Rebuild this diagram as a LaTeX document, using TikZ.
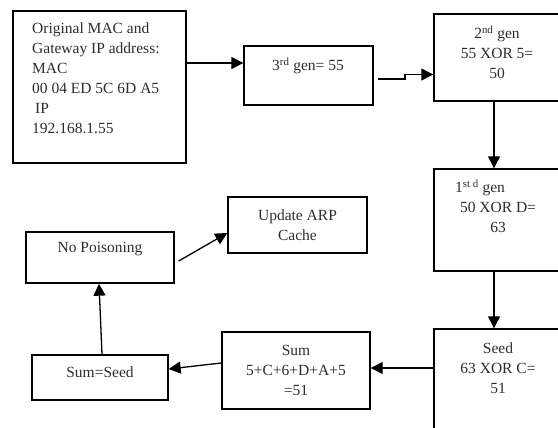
\documentclass[tikz,border=0pt]{standalone}
\usepackage{fontspec}
\setmainfont{Liberation Serif}
\usetikzlibrary{arrows.meta}
\definecolor{ink}{RGB}{45,45,45}
\begin{document}
\begin{tikzpicture}[x=1pt,y=-1pt,
  box/.style={draw, line width=1.4pt, rectangle, inner sep=0pt},
  txt/.style={font=\fontsize{15.5}{20}\selectfont, text=ink, inner sep=0pt, align=center, anchor=north},
  arr/.style={line width=1.3pt, -{Triangle[length=12pt,width=12pt]}}]
\useasboundingbox (0,0) rectangle (558,428);

% boxes
\node[box, minimum width=173, minimum height=152] (b1) at (99.5,87) {};
\node[box, minimum width=129, minimum height=59] (b2) at (308.5,75.5) {};
\node[box, minimum width=127, minimum height=87] (b3) at (497.5,57.5) {};
\node[box, minimum width=127, minimum height=102] (b4) at (497.5,220) {};
\node[box, minimum width=127, minimum height=111] (b5) at (497.5,384.5) {};
\node[box, minimum width=148, minimum height=77] (sum) at (296,370.5) {};
\node[box, minimum width=136, minimum height=45] (ss) at (100,377.5) {};
\node[box, minimum width=148, minimum height=51] (np) at (100,257.5) {};
\node[box, minimum width=139, minimum height=56] (up) at (297.5,225) {};

% texts (each starts with a strut so the node top sits 14pt above the first baseline)
\node[txt, anchor=north west, align=left] (t1) at (32,19.5)
  {\strut Original MAC and\\Gateway IP address:\\MAC\\00 04 ED 5C 6D A5\\\hspace*{3pt}IP\\192.168.1.55};
\node[txt] (t2) at (308,56.5) {\strut 3\textsuperscript{rd} gen= 55};
\node[txt] (t3) at (497,24.5) {\strut 2\textsuperscript{nd} gen\\55 XOR 5=\\50};
\node[txt] (t4) at (498,178.5) {\strut 1\textsuperscript{st d} gen\hspace*{36pt}\\50 XOR D=\\63};
\node[txt] (t5) at (498,339.5) {\strut Seed\\63 XOR C=\\51};
\node[txt] (t6) at (296,341.5) {\strut Sum\\5+C+6+D+A+5\\=51};
\node[txt] (t7) at (100,363.5) {\strut Sum=Seed};
\node[txt] (t8) at (100,238.5) {\strut No Poisoning};
\node[txt] (t9) at (297.5,206.5) {\strut Update ARP\\Cache};

% reference levels for the connectors
\coordinate (y63) at (0,63);
\coordinate (j1) at (405,79);
\coordinate (j2) at (405,74.5);
\coordinate (vx) at (494,0);
\coordinate (y368) at (0,368);
\coordinate (y363) at (0,363);
\coordinate (y369) at (0,369);
\coordinate (x102) at (102,0);
\coordinate (x99) at (99,0);
\coordinate (y233) at (0,233);

% connectors
\draw[arr] (b1.east |- y63) -- (b2.west |- y63);
\draw[arr, shorten <=4pt] (b2.east |- j1) -- (j1) -- (j2) -- (b3.west |- j2);
\draw[arr] (b3.south -| vx) -- (b4.north -| vx);
\draw[arr] (b4.south -| vx) -- (b5.north -| vx);
\draw[arr] (b5.west |- y368) -- (sum.east |- y368);
\draw[arr] (sum.west |- y363) -- (ss.east |- y369);
\draw[arr] (ss.north -| x102) -- (np.south -| x99);
\draw[arr] ([shift={(4,3.5)}]np.east) -- (up.west |- y233);
\end{tikzpicture}
\end{document}
